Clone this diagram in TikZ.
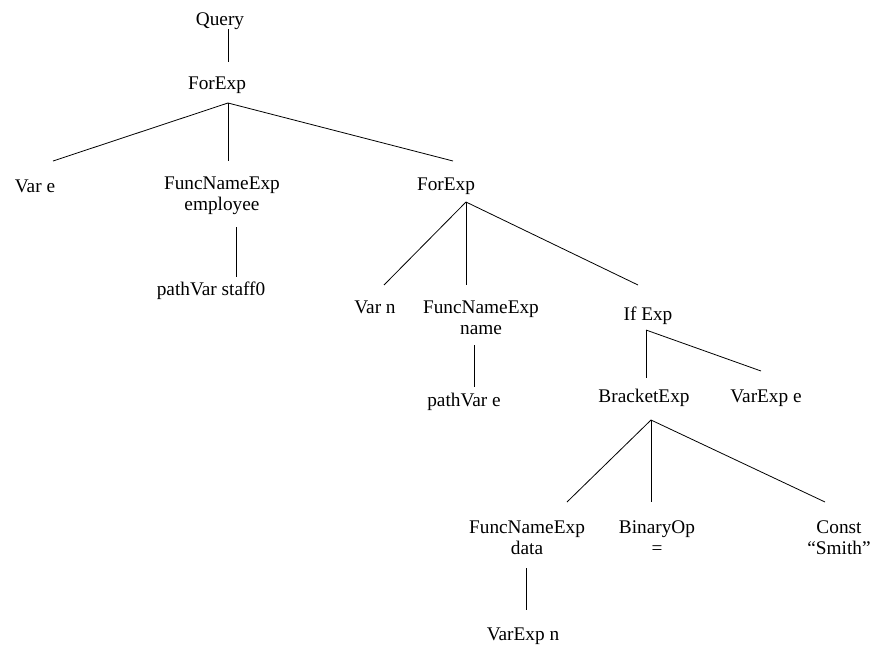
\documentclass[tikz,border=0pt]{standalone}
\usepackage{fontspec}
\setmainfont{Liberation Serif}
\begin{document}
\begin{tikzpicture}[x=1pt,y=-1pt,
  lbl/.style={inner sep=0pt,anchor=base,align=center,
              font=\fontsize{19.3}{21}\selectfont},
  edge/.style={line width=0.8pt,black}]
\useasboundingbox (0,0) rectangle (873,648);

% labels (positioned by last-line baseline)
\node[lbl] (query) at (220,25) {Query};
\node[lbl] (for1)  at (217,89) {ForExp};
\node[lbl] (vare)  at (35,192) {Var e};
\node[lbl] (fn1)   at (222,210) {FuncNameExp\\employee};
\node[lbl] (for2)  at (446,190) {ForExp};
\node[lbl] (pvs)   at (211,295) {pathVar staff0};
\node[lbl] (varn)  at (375,313) {Var n};
\node[lbl] (fn2)   at (481,334) {FuncNameExp\\name};
\node[lbl] (ifx)   at (648,320) {If Exp};
\node[lbl] (pve)   at (464,406) {pathVar e};
\node[lbl] (brk)   at (644,402) {BracketExp};
\node[lbl] (vxe)   at (766,402) {VarExp e};
\node[lbl] (fn3)   at (527,554) {FuncNameExp\\data};
\node[lbl] (bop)   at (657,554) {BinaryOp\\=};
\node[lbl] (cst)   at (839,554) {Const\\``Smith''};
\node[lbl] (vxn)   at (523,640) {VarExp n};

% connector end points
\coordinate (query-b) at (228,29);
\coordinate (for1-t)  at (228,62);
\coordinate (for1-b)  at (228,103);
\coordinate (vare-t)  at (53,161);
\coordinate (fn1-t)   at (228,161);
\coordinate (for2-t)  at (453,161);
\coordinate (fn1-b)   at (236,227);
\coordinate (pvs-t)   at (236,277);
\coordinate (for2-b)  at (466,202);
\coordinate (varn-t)  at (384,285);
\coordinate (fn2-t)   at (466,285);
\coordinate (ifx-t)   at (638,285);
\coordinate (fn2-b)   at (474,345);
\coordinate (pve-t)   at (474,387);
\coordinate (ifx-b)   at (646,330);
\coordinate (brk-t)   at (646,378);
\coordinate (vxe-t)   at (761,371);
\coordinate (brk-b)   at (651,420);
\coordinate (fn3-t)   at (567,502);
\coordinate (bop-t)   at (651,502);
\coordinate (cst-t)   at (825,502);
\coordinate (fn3-b)   at (526,568);
\coordinate (vxn-t)   at (526,610);

% tree edges
\draw[edge] (query-b) -- (for1-t);
\draw[edge] (for1-b) -- (vare-t);
\draw[edge] (for1-b) -- (fn1-t);
\draw[edge] (for1-b) -- (for2-t);
\draw[edge] (fn1-b) -- (pvs-t);
\draw[edge] (for2-b) -- (varn-t);
\draw[edge] (for2-b) -- (fn2-t);
\draw[edge] (for2-b) -- (ifx-t);
\draw[edge] (fn2-b) -- (pve-t);
\draw[edge] (ifx-b) -- (brk-t);
\draw[edge] (ifx-b) -- (vxe-t);
\draw[edge] (brk-b) -- (fn3-t);
\draw[edge] (brk-b) -- (bop-t);
\draw[edge] (brk-b) -- (cst-t);
\draw[edge] (fn3-b) -- (vxn-t);
\end{tikzpicture}
\end{document}
